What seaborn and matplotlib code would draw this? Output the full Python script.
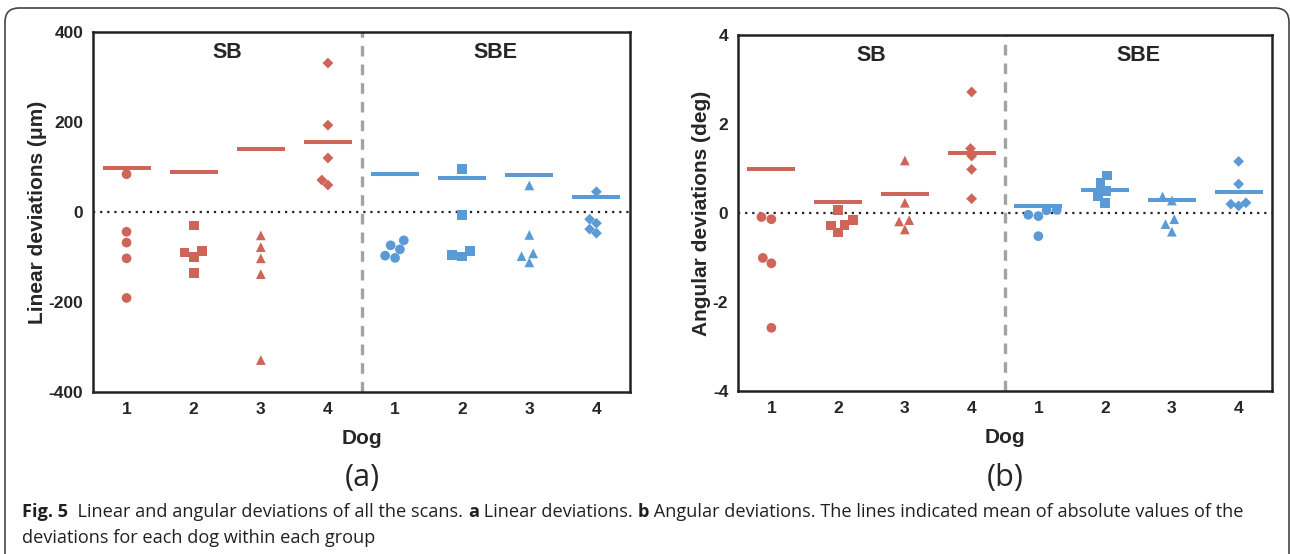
import numpy as np
import pandas as pd
import matplotlib
matplotlib.use("Agg")
import matplotlib.pyplot as plt
import seaborn as sns
from matplotlib.patches import FancyBboxPatch
from matplotlib.transforms import IdentityTransform

GROUPS = ["SB", "SBE"]
DOGS = [1, 2, 3, 4]
MARKERS = ["o", "s", "^", "D"]
MARKER_SIZES = [7, 7, 7, 5.5]
PALETTE = {"SB": "#cf6459", "SBE": "#5b9bd5"}
XTICK_LABELS = ["1", "2", "3", "4", "1", "2", "3", "4"]

# linear deviations (um), 5 scans per dog
lin_sb = [
    [84, -44, -68, -103, -191],
    [-30, -90, -100, -87, -135],
    [-52, -78, -103, -138, -329],
    [331, 193, 120, 71, 60],
]
lin_sbe = [
    [-63, -74, -83, -102, -97],
    [95, -7, -86, -99, -96],
    [59, -51, -92, -112, -98],
    [45, -16, -25, -47, -38],
]

# angular deviations (deg)
ang_sb = [
    [-0.14, -0.09, -1.01, -1.13, -2.58],
    [0.06, -0.27, -0.15, -0.28, -0.44],
    [1.18, 0.23, -0.16, -0.19, -0.37],
    [2.72, 1.45, 1.28, 0.98, 0.32],
]
ang_sbe = [
    [0.07, -0.04, -0.07, 0.06, -0.52],
    [0.84, 0.67, 0.49, 0.37, 0.22],
    [0.37, 0.28, -0.14, -0.25, -0.42],
    [1.16, 0.65, 0.23, 0.16, 0.20],
]


def to_frame(sb, sbe):
    rows = []
    for group, vals in zip(GROUPS, [sb, sbe]):
        for dog, scans in zip(DOGS, vals):
            for v in scans:
                rows.append({"group": group, "dog": dog, "cat": f"{group}{dog}", "value": v})
    df = pd.DataFrame(rows)
    df["absval"] = df["value"].abs()
    return df


def draw_panel(ax, df, ylim, yticks, ylabel):
    order = [f"{g}{d}" for g in GROUPS for d in DOGS]

    for dog, mk, ms in zip(DOGS, MARKERS, MARKER_SIZES):
        sub = df[df["dog"] == dog]
        sns.swarmplot(
            data=sub, x="cat", y="value", hue="group",
            order=order, hue_order=GROUPS, palette=PALETTE,
            marker=mk, size=ms, linewidth=0, legend=False, ax=ax,
        )

    # mean of absolute values
    sns.pointplot(
        data=df, x="cat", y="absval", hue="group",
        order=order, hue_order=GROUPS, palette=PALETTE,
        estimator="mean", errorbar=None, markers="_", linestyles="none",
        markersize=34, markeredgewidth=2.9, legend=False, ax=ax,
    )

    ax.axvline(3.5, color="#a3a3a3", ls=(0, (3.2, 2.4)), lw=2.4, zorder=0)
    ax.axhline(0, color="#222222", ls=(0, (1, 2.2)), lw=1.6, zorder=0)

    ax.set_xlim(-0.5, 7.5)
    ax.set_ylim(*ylim)
    ax.set_yticks(yticks)
    ax.set_xticks(range(8))
    ax.set_xticklabels(XTICK_LABELS)
    ax.set_xlabel("Dog", fontsize=15, fontweight="bold", labelpad=9)
    ax.set_ylabel(ylabel, fontsize=15, fontweight="bold", labelpad=1)

    for lbl in ax.get_xticklabels() + ax.get_yticklabels():
        lbl.set_fontweight("bold")
    ax.tick_params(axis="both", length=5, width=1.6, color="#222222", labelsize=12.5, pad=2)
    for sp in ax.spines.values():
        sp.set_visible(True)
        sp.set_color("#222222")
        sp.set_linewidth(1.8)

    top = ylim[1] - (ylim[1] - ylim[0]) * 0.028
    for i, g in enumerate(GROUPS):
        ax.text(1.5 + 4 * i, top, g, ha="center", va="top", fontsize=15.5, fontweight="bold")


def caption_line(fig, pieces, x, y, size):
    r = fig.canvas.get_renderer()
    for txt, weight in pieces:
        t = fig.text(x, y, txt, fontsize=size, fontweight=weight, family="Open Sans",
                     va="baseline", color="#231f20")
        bb = t.get_window_extent(renderer=r)
        x += bb.width / fig.bbox.width


def main():
    sns.set_style("white")
    plt.rcParams["font.family"] = ["Liberation Sans", "DejaVu Sans"]
    plt.rcParams["axes.unicode_minus"] = False

    W, H = 1290, 554
    fig = plt.figure(figsize=(W / 100, H / 100), dpi=100)
    fig.patch.set_facecolor("white")

    ax1 = fig.add_axes([93 / W, 1 - 392 / H, (630 - 93) / W, (392 - 32) / H])
    ax2 = fig.add_axes([738 / W, 1 - 391 / H, (1272 - 738) / W, (391 - 35) / H])

    draw_panel(ax1, to_frame(lin_sb, lin_sbe), (-400, 400), [-400, -200, 0, 200, 400],
               "Linear deviations (\u03bcm)")
    draw_panel(ax2, to_frame(ang_sb, ang_sbe), (-4, 4), [-4, -2, 0, 2, 4],
               "Angular deviations (deg)")

    fig.text(362 / W, 1 - 478 / H, "(a)", ha="center", va="center", fontsize=22,
             family="Open Sans")
    fig.text(1005 / W, 1 - 478 / H, "(b)", ha="center", va="center", fontsize=22,
             family="Open Sans")

    caption_line(fig, [
        ("Fig. 5", "bold"),
        ("  Linear and angular deviations of all the scans. ", "normal"),
        ("a", "bold"),
        (" Linear deviations. ", "normal"),
        ("b", "bold"),
        (" Angular deviations. The lines indicated mean of absolute values of the", "normal"),
    ], 22 / W, 1 - 517 / H, 13.1)
    caption_line(fig, [("deviations for each dog within each group", "normal")],
                 22 / W, 1 - 543 / H, 13.1)

    box = FancyBboxPatch((5, -30), 1284, H - 8 + 30,
                         boxstyle="round,pad=0,rounding_size=14",
                         transform=IdentityTransform(), fill=False,
                         edgecolor="#444444", lw=1.2)
    fig.patches.append(box)

    fig.savefig("out.png", dpi=100)
    plt.close(fig)


if __name__ == "__main__":
    main()
